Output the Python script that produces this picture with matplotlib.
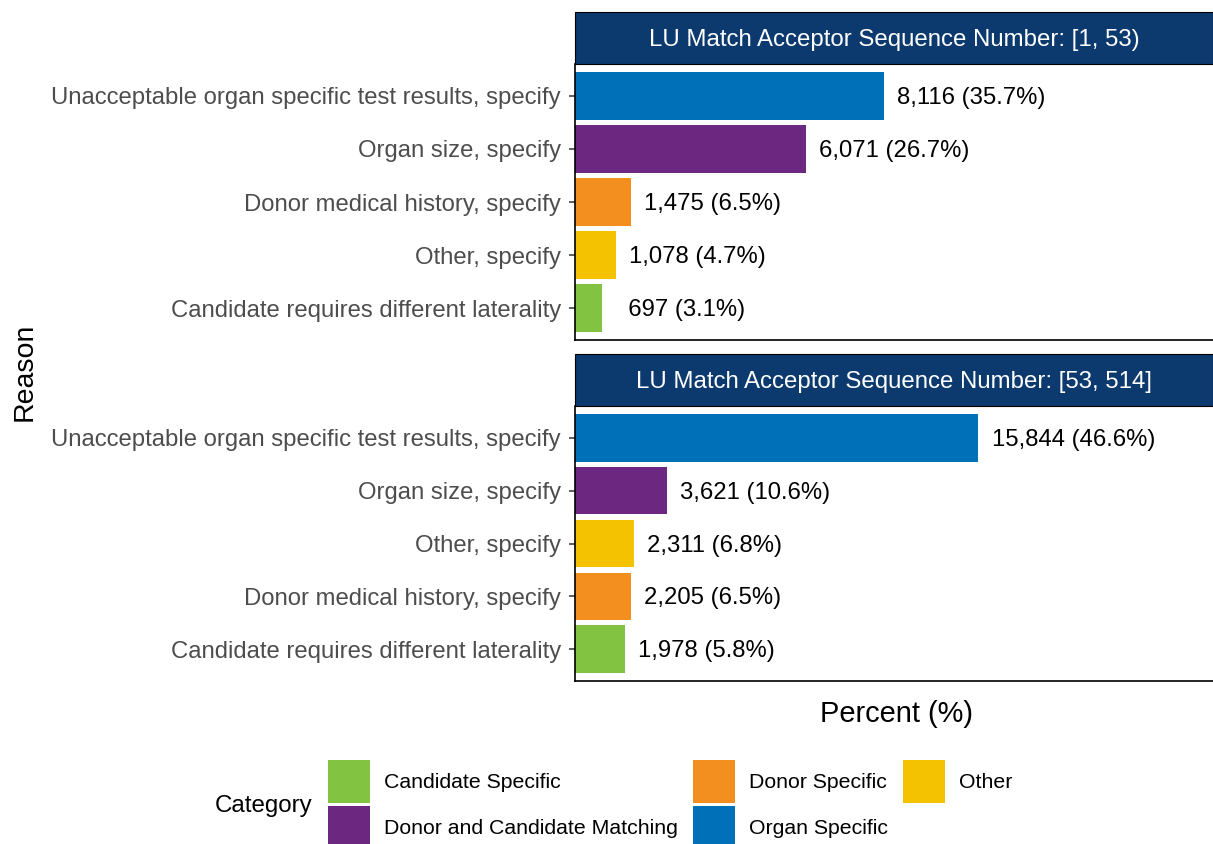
import matplotlib
matplotlib.use("Agg")
import matplotlib.pyplot as plt
from matplotlib.patches import Rectangle, Patch

plt.rcParams['font.family'] = ['Liberation Sans', 'DejaVu Sans']

# ---- data ----
panel_titles = ["LU Match Acceptor Sequence Number: [1, 53)",
                "LU Match Acceptor Sequence Number: [53, 514]"]

reasons_1 = ["Unacceptable organ specific test results, specify",
             "Organ size, specify",
             "Donor medical history, specify",
             "Other, specify",
             "Candidate requires different laterality"]
counts_1 = [8116, 6071, 1475, 1078, 697]
pcts_1 = [35.7, 26.7, 6.5, 4.7, 3.1]
cats_1 = ["Organ Specific", "Donor and Candidate Matching", "Donor Specific",
          "Other", "Candidate Specific"]

reasons_2 = ["Unacceptable organ specific test results, specify",
             "Organ size, specify",
             "Other, specify",
             "Donor medical history, specify",
             "Candidate requires different laterality"]
counts_2 = [15844, 3621, 2311, 2205, 1978]
pcts_2 = [46.6, 10.6, 6.8, 6.5, 5.8]
cats_2 = ["Organ Specific", "Donor and Candidate Matching", "Other",
          "Donor Specific", "Candidate Specific"]

legend_order = ["Candidate Specific", "Donor and Candidate Matching",
                "Donor Specific", "Organ Specific", "Other"]

colors = {"Candidate Specific": "#82C341",
          "Donor and Candidate Matching": "#6C2880",
          "Donor Specific": "#F28F1F",
          "Organ Specific": "#0070B8",
          "Other": "#F5C200"}
strip_color = "#0C3A6E"

W, H = 1213, 844
fig = plt.figure(figsize=(W / 100, H / 100), dpi=100)

ax_left = 575 / W
ax_width = (1213 - 575) / W
panels = [(64, 340), (406, 681)]
data = [(reasons_1, counts_1, pcts_1, cats_1),
        (reasons_2, counts_2, pcts_2, cats_2)]

for (top, bot), title, (reasons, counts, pcts, cats) in zip(panels, panel_titles, data):
    ax = fig.add_axes([ax_left, 1 - bot / H, ax_width, (bot - top) / H])
    ypos = list(range(1, len(reasons) + 1))
    ax.barh(ypos, pcts, height=0.9, color=[colors[c] for c in cats])
    for y, n, p in zip(ypos, counts, pcts):
        label = f"{n:>5,} ({p:.1f}%)"
        ax.annotate(label, xy=(p, y), xytext=(9.5, -1.5), textcoords='offset points',
                    ha='left', va='center', fontsize=17.2, color='black')
    ax.set_xlim(0, 73.7)
    ax.set_ylim(5.6, 0.4)
    ax.set_yticks(ypos)
    ax.set_yticklabels(reasons, fontsize=17.2, color='#4D4D4D')
    ax.tick_params(axis='y', length=4, width=1.1, color='#333333', pad=6.2)
    ax.set_xticks([])
    for s in ['top', 'right']:
        ax.spines[s].set_visible(False)
    for s in ['left', 'bottom']:
        ax.spines[s].set_linewidth(1.2)
        ax.spines[s].set_color('black')
    # strip
    sh = 52 / (bot - top)
    ax.add_patch(Rectangle((0, 1), 1, sh, transform=ax.transAxes, clip_on=False,
                           facecolor=strip_color, edgecolor='black', linewidth=0.8))
    ax.text(0.5, 1 + sh / 2 - 2 / (bot - top), title, transform=ax.transAxes,
            ha='center', va='center', color='white', fontsize=17.3)

fig.text(25 / W, 1 - 372 / H, "Reason", rotation=90, ha='center', va='center',
         fontsize=20.5)
fig.text(896 / W, 1 - 714 / H, "Percent (%)", ha='center', va='center',
         fontsize=20.9)

fig.text(215 / W, 1 - 806 / H, "Category", ha='left', va='center', fontsize=17.4)
handles = [Patch(facecolor=colors[c], edgecolor='none') for c in legend_order]
fs = 15.3
fig.legend(handles, legend_order, ncol=3, loc='upper left',
           bbox_to_anchor=(328 / W, 1 - 760 / H), frameon=False, fontsize=fs,
           handlelength=1.97, handleheight=2.74, labelspacing=0.14,
           handletextpad=0.66, columnspacing=0.72, borderpad=0, borderaxespad=0)

fig.savefig("out.png", dpi=100)
